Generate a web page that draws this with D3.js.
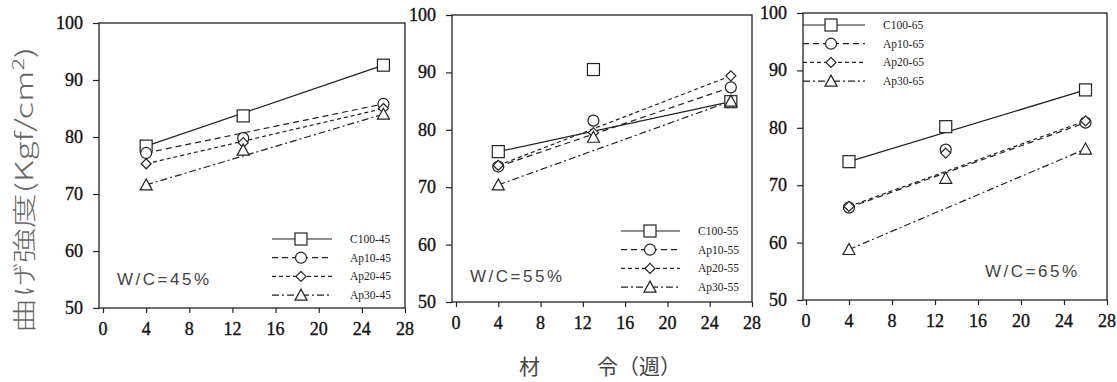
<!DOCTYPE html>
<html>
<head>
<meta charset="utf-8">
<script src="https://cdn.jsdelivr.net/npm/d3@7"></script>
<style>
  body { margin: 0; background: #fff; }
  svg { display: block; }
</style>
</head>
<body>
<div id="main"></div>
<script>
// ages in weeks, one value per age for each mix
const ages = [4, 13, 26];
const mixNames = ["C100", "Ap10", "Ap20", "Ap30"];
const wcRatios = [45, 55, 65];
const xTicks = [0, 4, 8, 12, 16, 20, 24, 28];
const yTicks = [50, 60, 70, 80, 90, 100];

const strength45 = [
  [78.4, 83.7, 92.6],
  [77.2, 79.8, 85.8],
  [75.3, 79.0, 85.0],
  [71.6, 77.7, 84.0]
];
const strength55 = [
  [76.2, 90.5, 84.9],
  [73.6, 81.6, 87.4],
  [73.8, 79.5, 89.4],
  [70.4, 78.7, 85.0]
];
const strength65 = [
  [74.1, 80.2, 86.6],
  [66.1, 76.2, 80.9],
  [66.3, 75.6, 81.2],
  [58.8, 71.2, 76.3]
];
const allStrength = [strength45, strength55, strength65];

// layout of the three panels
const panels = [
  { axisX: 99,  x0: 103, x1: 405,  yTop: 23, yBot: 308, leg: { x1: 272, x2: 332, mx: 301, tx: 350, y: 239 }, wc: { x: 117, dy: 23 } },
  { axisX: 452, x0: 456, x1: 752,  yTop: 15, yBot: 302, leg: { x1: 621, x2: 680, mx: 650, tx: 698, y: 231 }, wc: { x: 470, dy: 20 } },
  { axisX: 803, x0: 806, x1: 1107, yTop: 13, yBot: 300, leg: { x1: 803, x2: 865, mx: 831, tx: 883, y: 25 },  wc: { x: 985, dy: 23 } }
];

const dashes = [null, "6,4", "4,3", "7,3,2,3"];
const ink = "#222";
const serif = "'Liberation Serif', 'Times New Roman', serif";

const svg = d3.select("#main").append("svg")
  .attr("width", 1117).attr("height", 382);

function marker(g, kind, cx, cy) {
  const common = s => s.attr("fill", "#fff").attr("stroke", ink).attr("stroke-width", 1.2);
  if (kind === 0) {
    common(g.append("rect").attr("x", cx - 6).attr("y", cy - 6).attr("width", 12).attr("height", 12));
  } else if (kind === 1) {
    common(g.append("circle").attr("cx", cx).attr("cy", cy).attr("r", 5.5));
  } else if (kind === 2) {
    common(g.append("path").attr("d", `M${cx},${cy - 5}L${cx + 5},${cy}L${cx},${cy + 5}L${cx - 5},${cy}Z`));
  } else {
    common(g.append("path").attr("d", `M${cx},${cy - 6}L${cx + 6},${cy + 5}L${cx - 6},${cy + 5}Z`));
  }
}

panels.forEach((p, pi) => {
  const x = d3.scaleLinear().domain([0, 28]).range([p.x0, p.x1]);
  const y = d3.scaleLinear().domain([50, 100]).range([p.yBot, p.yTop]);
  const g = svg.append("g");

  // frame
  g.append("rect")
    .attr("x", p.axisX).attr("y", p.yTop)
    .attr("width", p.x1 - p.axisX).attr("height", p.yBot - p.yTop)
    .attr("fill", "none").attr("stroke", ink).attr("stroke-width", 1.3);

  // tick marks from the axis generators, labels drawn separately
  const xAxis = g.append("g")
    .attr("transform", `translate(0,${p.yBot})`)
    .call(d3.axisBottom(x).tickValues(xTicks).tickSize(5).tickFormat(""));
  const yAxis = g.append("g")
    .attr("transform", `translate(${p.axisX},0)`)
    .call(d3.axisLeft(y).tickValues(yTicks).tickSize(6).tickFormat(""));
  [xAxis, yAxis].forEach(a => {
    a.select(".domain").remove();
    a.selectAll("line").attr("stroke", ink).attr("stroke-width", 1.2);
  });

  g.selectAll(".xlab").data(xTicks).enter().append("text")
    .attr("class", "xlab")
    .attr("x", d => x(d)).attr("y", p.yBot + 27)
    .attr("text-anchor", "middle")
    .attr("fill", "#111").attr("stroke", "#111").attr("stroke-width", 0.35)
    .style("font-family", serif).style("font-size", "18px")
    .text(d => d);
  g.selectAll(".ylab").data(yTicks).enter().append("text")
    .attr("class", "ylab")
    .attr("x", p.axisX - 16).attr("y", d => y(d) + 6)
    .attr("text-anchor", "end")
    .attr("fill", "#111").attr("stroke", "#111").attr("stroke-width", 0.35)
    .style("font-family", serif).style("font-size", "18px")
    .text(d => d);

  const data = allStrength[pi];

  // straight lines from first to last age
  data.forEach((vals, si) => {
    const ends = [[ages[0], vals[0]], [ages[ages.length - 1], vals[vals.length - 1]]];
    g.append("path")
      .attr("d", d3.line().x(d => x(d[0])).y(d => y(d[1]))(ends))
      .attr("fill", "none")
      .attr("stroke", ink)
      .attr("stroke-width", 1.2)
      .attr("stroke-dasharray", dashes[si]);
  });
  data.forEach((vals, si) => {
    vals.forEach((v, i) => marker(g, si, x(ages[i]), y(v)));
  });

  // legend
  mixNames.forEach((name, si) => {
    const ly = p.leg.y + si * 18.7;
    g.append("line")
      .attr("x1", p.leg.x1).attr("x2", p.leg.x2)
      .attr("y1", ly).attr("y2", ly)
      .attr("stroke", ink).attr("stroke-width", 1.2)
      .attr("stroke-dasharray", dashes[si]);
    marker(g, si, p.leg.mx, ly);
    g.append("text")
      .attr("x", p.leg.tx).attr("y", ly + 4)
      .attr("fill", ink)
      .style("font-family", serif)
      .style("font-size", "11.5px")
      .text(`${name}-${wcRatios[pi]}`);
  });

  g.append("text")
    .attr("x", p.wc.x).attr("y", p.yBot - p.wc.dy)
    .attr("fill", "#444")
    .style("font-family", "'Liberation Sans', sans-serif")
    .style("font-size", "17px")
    .style("letter-spacing", "2.5px")
    .text(`W/C=${wcRatios[pi]}%`);
});

// y axis title, stretched along its length like the scan
const yTitle = svg.append("g").attr("transform", "translate(33,190) rotate(-90)");
const yt = yTitle.append("text")
  .attr("text-anchor", "middle")
  .attr("fill", "#666")
  .style("font-family", "'Noto Sans CJK JP', sans-serif")
  .style("font-size", "24px")
  .style("font-weight", 300);
yt.append("tspan").text("曲げ強度(Kgf/cm");
yt.append("tspan").attr("dy", -9).style("font-size", "16px").text("2");
yt.append("tspan").attr("dy", 9).text(")");
const w = yt.node().getBBox().width;
yt.attr("transform", `scale(${286 / w},1)`);

// x axis title
const xtStyle = s => s.attr("fill", "#444")
  .style("font-family", "'Noto Sans CJK JP', sans-serif")
  .style("font-size", "21px");
xtStyle(svg.append("text").attr("x", 519).attr("y", 374).text("材"));
xtStyle(svg.append("text").attr("x", 597).attr("y", 374).text("令（週）"));
</script>
</body>
</html>
